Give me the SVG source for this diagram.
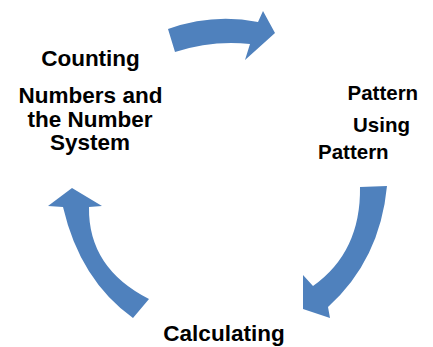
<svg xmlns="http://www.w3.org/2000/svg" width="433" height="347" viewBox="0 0 433 347">
  <style>
    .label { font-family: "Liberation Sans", Arial, sans-serif; font-weight: bold; fill: #000000; }
    .left { font-size: 22.5px; text-anchor: middle; }
    .right { font-size: 20.5px; }
    .bottom { font-size: 22.5px; text-anchor: middle; }
    .arrow { fill: #4F81BD; stroke: none; }
  </style>
  <rect width="433" height="347" fill="#FFFFFF"/>

  <!-- curved block arrows forming the cycle -->
  <g id="connectors">
    <path class="arrow" d="M168,29 Q213,13 258,22 L263,11 L275,33 L245,60 L250,44 Q212,40 175,52 Z"/>
    <path class="arrow" d="M360,187 L387,186 Q380,260 328,307 L330,318 L303,309 L303,275 L313,286 Q361,252 360,187 Z"/>
    <path class="arrow" d="M133,318 Q80,280 63,207 L48,206 L72,188 L102,206 L89,207 Q88,268 149,299 Z"/>
  </g>

  <g id="node-counting">
    <text class="label left" x="90.5" y="66">Counting</text>
    <text class="label left" x="90.5" y="103">Numbers and</text>
    <text class="label left" x="90" y="126.5">the Number</text>
    <text class="label left" x="90" y="150">System</text>
  </g>

  <g id="node-pattern">
    <text class="label right" x="347.5" y="100">Pattern</text>
    <text class="label right" x="353" y="132">Using</text>
    <text class="label right" x="318" y="159">Pattern</text>
  </g>

  <g id="node-calculating">
    <text class="label bottom" x="224" y="341">Calculating</text>
  </g>
</svg>
